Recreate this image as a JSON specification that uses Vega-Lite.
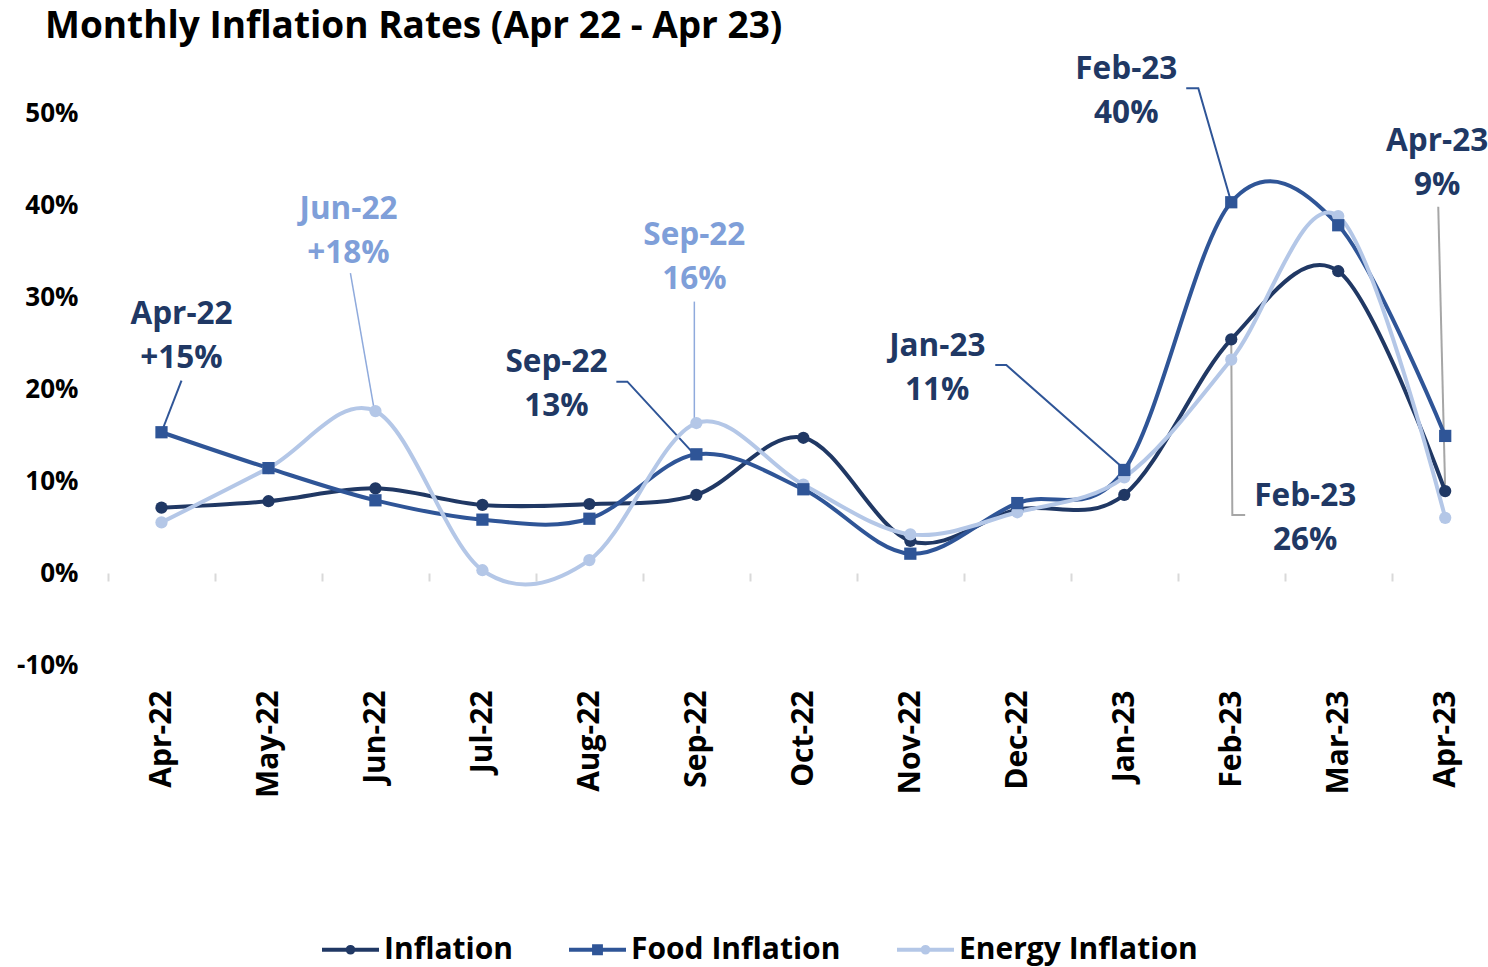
{
  "$schema": "https://vega.github.io/schema/vega-lite/v6.json",
  "autosize": "none",
  "width": 1380,
  "height": 552,
  "padding": {"left": 108, "top": 113, "right": 0, "bottom": 302},
  "background": "white",
  "title": {
    "text": "Monthly Inflation Rates (Apr 22 - Apr 23)",
    "anchor": "start",
    "frame": "group",
    "dx": -63,
    "dy": 33,
    "offset": 12,
    "baseline": "alphabetic",
    "font": "Open Sans",
    "fontSize": 37,
    "fontWeight": "bold",
    "color": "#000000"
  },
  "config": {
    "view": {"stroke": null},
    "font": "Open Sans"
  },
  "datasets": {
    "series": [
      {"i": 0, "series": "Inflation", "v": 7.1},
      {"i": 1, "series": "Inflation", "v": 7.8},
      {"i": 2, "series": "Inflation", "v": 9.2},
      {"i": 3, "series": "Inflation", "v": 7.4},
      {"i": 4, "series": "Inflation", "v": 7.5},
      {"i": 5, "series": "Inflation", "v": 8.5},
      {"i": 6, "series": "Inflation", "v": 14.7},
      {"i": 7, "series": "Inflation", "v": 3.5},
      {"i": 8, "series": "Inflation", "v": 6.9},
      {"i": 9, "series": "Inflation", "v": 8.5},
      {"i": 10, "series": "Inflation", "v": 25.4},
      {"i": 11, "series": "Inflation", "v": 32.8},
      {"i": 12, "series": "Inflation", "v": 8.9},
      {"i": 0, "series": "Food Inflation", "v": 15.3},
      {"i": 1, "series": "Food Inflation", "v": 11.4},
      {"i": 2, "series": "Food Inflation", "v": 7.9},
      {"i": 3, "series": "Food Inflation", "v": 5.8},
      {"i": 4, "series": "Food Inflation", "v": 5.9},
      {"i": 5, "series": "Food Inflation", "v": 12.9},
      {"i": 6, "series": "Food Inflation", "v": 9.1},
      {"i": 7, "series": "Food Inflation", "v": 2.1},
      {"i": 8, "series": "Food Inflation", "v": 7.6},
      {"i": 9, "series": "Food Inflation", "v": 11.2},
      {"i": 10, "series": "Food Inflation", "v": 40.3},
      {"i": 11, "series": "Food Inflation", "v": 37.8},
      {"i": 12, "series": "Food Inflation", "v": 14.9},
      {"i": 0, "series": "Energy Inflation", "v": 5.5},
      {"i": 1, "series": "Energy Inflation", "v": 11.4},
      {"i": 2, "series": "Energy Inflation", "v": 17.6},
      {"i": 3, "series": "Energy Inflation", "v": 0.3},
      {"i": 4, "series": "Energy Inflation", "v": 1.4},
      {"i": 5, "series": "Energy Inflation", "v": 16.3},
      {"i": 6, "series": "Energy Inflation", "v": 9.6},
      {"i": 7, "series": "Energy Inflation", "v": 4.2},
      {"i": 8, "series": "Energy Inflation", "v": 6.6},
      {"i": 9, "series": "Energy Inflation", "v": 10.4},
      {"i": 10, "series": "Energy Inflation", "v": 23.2},
      {"i": 11, "series": "Energy Inflation", "v": 38.8},
      {"i": 12, "series": "Energy Inflation", "v": 6.0}
    ],
    "leaders": [
      {"id": 1, "k": 0, "kind": "food", "x": 0.187, "y": 20.9},
      {"id": 1, "k": 1, "kind": "food", "x": 0.0, "y": 15.3},
      {"id": 2, "k": 0, "kind": "energy", "x": 1.766, "y": 32.6},
      {"id": 2, "k": 1, "kind": "energy", "x": 1.991, "y": 17.6},
      {"id": 3, "k": 0, "kind": "food", "x": 4.252, "y": 20.8},
      {"id": 3, "k": 1, "kind": "food", "x": 4.355, "y": 20.8},
      {"id": 3, "k": 2, "kind": "food", "x": 4.981, "y": 12.9},
      {"id": 4, "k": 0, "kind": "energy", "x": 4.981, "y": 29.5},
      {"id": 4, "k": 1, "kind": "energy", "x": 4.981, "y": 16.3},
      {"id": 5, "k": 0, "kind": "food", "x": 7.794, "y": 22.6},
      {"id": 5, "k": 1, "kind": "food", "x": 7.897, "y": 22.6},
      {"id": 5, "k": 2, "kind": "food", "x": 8.981, "y": 11.5},
      {"id": 6, "k": 0, "kind": "food", "x": 9.579, "y": 52.7},
      {"id": 6, "k": 1, "kind": "food", "x": 9.692, "y": 52.7},
      {"id": 6, "k": 2, "kind": "food", "x": 10.0, "y": 40.3},
      {"id": 7, "k": 0, "kind": "callout", "x": 11.935, "y": 39.8},
      {"id": 7, "k": 1, "kind": "callout", "x": 12.0, "y": 8.9},
      {"id": 8, "k": 0, "kind": "callout", "x": 10.0, "y": 25.4},
      {"id": 8, "k": 1, "kind": "callout", "x": 10.01, "y": 6.3},
      {"id": 8, "k": 2, "kind": "callout", "x": 10.13, "y": 6.3}
    ],
    "notes": [
      {"kind": "dark", "x": 0.187, "y": 28.04, "label": "Apr-22\n+15%"},
      {"kind": "light", "x": 1.748, "y": 39.46, "label": "Jun-22\n+18%"},
      {"kind": "dark", "x": 3.692, "y": 22.83, "label": "Sep-22\n13%"},
      {"kind": "light", "x": 4.981, "y": 36.63, "label": "Sep-22\n16%"},
      {"kind": "dark", "x": 7.252, "y": 24.57, "label": "Jan-23\n11%"},
      {"kind": "dark", "x": 9.019, "y": 54.67, "label": "Feb-23\n40%"},
      {"kind": "dark", "x": 11.925, "y": 46.85, "label": "Apr-23\n9%"},
      {"kind": "dark", "x": 10.692, "y": 8.26, "label": "Feb-23\n26%"}
    ]
  },
  "layer": [
    {
      "mark": {"type": "rule", "color": "#d9d9d9", "strokeWidth": 2},
      "encoding": {
        "y": {"datum": 0, "type": "quantitative", "scale": {"domain": [-10, 50], "nice": false, "zero": false}}
      }
    },
    {
      "data": {"name": "leaders"},
      "transform": [{"filter": "datum.kind === 'food'"}],
      "mark": {"type": "line", "color": "#2f5597", "strokeWidth": 2},
      "encoding": {
        "x": {"field": "x", "type": "quantitative", "axis": null, "scale": {"domain": [-0.5, 12.4], "nice": false, "zero": false}},
        "y": {"field": "y", "type": "quantitative", "scale": {"domain": [-10, 50], "nice": false, "zero": false}},
        "detail": {"field": "id", "type": "nominal"},
        "order": {"field": "k", "type": "quantitative"}
      }
    },
    {
      "data": {"name": "leaders"},
      "transform": [{"filter": "datum.kind === 'energy'"}],
      "mark": {"type": "line", "color": "#8faadc", "strokeWidth": 1.5},
      "encoding": {
        "x": {"field": "x", "type": "quantitative", "axis": null, "scale": {"domain": [-0.5, 12.4], "nice": false, "zero": false}},
        "y": {"field": "y", "type": "quantitative", "scale": {"domain": [-10, 50], "nice": false, "zero": false}},
        "detail": {"field": "id", "type": "nominal"},
        "order": {"field": "k", "type": "quantitative"}
      }
    },
    {
      "data": {"name": "leaders"},
      "transform": [{"filter": "datum.kind === 'callout'"}],
      "mark": {"type": "line", "color": "#a6a6a6", "strokeWidth": 2},
      "encoding": {
        "x": {"field": "x", "type": "quantitative", "axis": null, "scale": {"domain": [-0.5, 12.4], "nice": false, "zero": false}},
        "y": {"field": "y", "type": "quantitative", "scale": {"domain": [-10, 50], "nice": false, "zero": false}},
        "detail": {"field": "id", "type": "nominal"},
        "order": {"field": "k", "type": "quantitative"}
      }
    },
    {
      "data": {"name": "series"},
      "mark": {"type": "line", "interpolate": "cardinal", "strokeWidth": 4},
      "encoding": {
        "x": {
          "field": "i", "type": "quantitative",
          "scale": {"domain": [-0.5, 12.4], "nice": false, "zero": false},
          "axis": {
            "orient": "bottom", "offset": -92,
            "values": [-0.5, 0.5, 1.5, 2.5, 3.5, 4.5, 5.5, 6.5, 7.5, 8.5, 9.5, 10.5, 11.5],
            "labels": false, "grid": false, "title": null,
            "domain": false,
            "ticks": true, "tickColor": "#d9d9d9", "tickWidth": 2, "tickSize": 8
          }
        },
        "y": {
          "field": "v", "type": "quantitative",
          "scale": {"domain": [-10, 50], "nice": false, "zero": false},
          "axis": {
            "values": [-10, 0, 10, 20, 30, 40, 50],
            "labelExpr": "datum.value + '%'",
            "grid": false, "domain": false, "ticks": false, "title": null,
            "labelPadding": 30, "labelFont": "Open Sans", "labelFontSize": 26,
            "labelFontWeight": "bold", "labelColor": "#000000"
          }
        },
        "color": {
          "field": "series", "type": "nominal",
          "scale": {"domain": ["Inflation", "Food Inflation", "Energy Inflation"], "range": ["#203864", "#2f5597", "#b4c7e7"]},
          "legend": {
            "orient": "none", "legendX": 212, "legendY": 806, "direction": "horizontal",
            "title": null,
            "labelFont": "Open Sans",
            "labelFontSize": 30, "labelFontWeight": "bold", "labelColor": "#000000",
            "labelOffset": 3, "columnPadding": 48, "labelLimit": 500,
            "symbolSize": 3249, "symbolStrokeWidth": 4,
            "encode": {
              "symbols": {
                "update": {
                  "shape": {"signal": "datum.value === 'Food Inflation' ? 'M-1,0H1M-0.12,-0.12H0.12V0.12H-0.12Z' : 'M-1,0H1M0.1,0A0.1,0.1,0,1,1,-0.1,0A0.1,0.1,0,1,1,0.1,0Z'"},
                  "fill": {"signal": "datum.value === 'Inflation' ? '#203864' : datum.value === 'Food Inflation' ? '#2f5597' : '#b4c7e7'"},
                  "stroke": {"signal": "datum.value === 'Inflation' ? '#203864' : datum.value === 'Food Inflation' ? '#2f5597' : '#b4c7e7'"},
                  "strokeWidth": {"value": 4},
                  "size": {"value": 3249},
                  "opacity": {"value": 1}
                }
              }
            }
          }
        }
      }
    },
    {
      "data": {"name": "series"},
      "transform": [{"filter": "datum.series !== 'Food Inflation'"}],
      "mark": {"type": "point", "shape": "circle", "filled": true, "size": 150, "opacity": 1},
      "encoding": {
        "x": {
          "field": "i", "type": "quantitative",
          "scale": {"domain": [-0.5, 12.4], "nice": false, "zero": false},
          "axis": {
            "orient": "bottom",
            "values": [0, 1, 2, 3, 4, 5, 6, 7, 8, 9, 10, 11, 12],
            "labelExpr": "['Apr-22','May-22','Jun-22','Jul-22','Aug-22','Sep-22','Oct-22','Nov-22','Dec-22','Jan-23','Feb-23','Mar-23','Apr-23'][datum.value]",
            "labelAngle": 270, "labelAlign": "right", "labelBaseline": "middle",
            "labelPadding": 25, "labelFont": "Open Sans", "labelFontSize": 30,
            "labelFontWeight": "bold", "labelColor": "#000000",
            "labelOverlap": false, "labelFlush": false,
            "domain": false, "ticks": false, "grid": false, "title": null
          }
        },
        "y": {"field": "v", "type": "quantitative", "scale": {"domain": [-10, 50], "nice": false, "zero": false}},
        "color": {
          "field": "series", "type": "nominal",
          "scale": {"domain": ["Inflation", "Food Inflation", "Energy Inflation"], "range": ["#203864", "#2f5597", "#b4c7e7"]}
        }
      }
    },
    {
      "data": {"name": "series"},
      "transform": [{"filter": "datum.series === 'Food Inflation'"}],
      "mark": {"type": "point", "shape": "square", "filled": true, "size": 150, "opacity": 1},
      "encoding": {
        "x": {"field": "i", "type": "quantitative", "axis": null, "scale": {"domain": [-0.5, 12.4], "nice": false, "zero": false}},
        "y": {"field": "v", "type": "quantitative", "scale": {"domain": [-10, 50], "nice": false, "zero": false}},
        "color": {
          "field": "series", "type": "nominal",
          "scale": {"domain": ["Inflation", "Food Inflation", "Energy Inflation"], "range": ["#203864", "#2f5597", "#b4c7e7"]}
        }
      }
    },
    {
      "data": {"name": "notes"},
      "transform": [{"filter": "datum.kind === 'dark'"}],
      "mark": {"type": "text", "lineBreak": "\n", "lineHeight": 44, "align": "center", "baseline": "middle", "font": "Open Sans", "fontSize": 31.5, "fontWeight": "bold", "color": "#203864"},
      "encoding": {
        "x": {"field": "x", "type": "quantitative", "axis": null, "scale": {"domain": [-0.5, 12.4], "nice": false, "zero": false}},
        "y": {"field": "y", "type": "quantitative", "scale": {"domain": [-10, 50], "nice": false, "zero": false}},
        "text": {"field": "label", "type": "nominal"}
      }
    },
    {
      "data": {"name": "notes"},
      "transform": [{"filter": "datum.kind === 'light'"}],
      "mark": {"type": "text", "lineBreak": "\n", "lineHeight": 44, "align": "center", "baseline": "middle", "font": "Open Sans", "fontSize": 31.5, "fontWeight": "bold", "color": "#7f9fd9"},
      "encoding": {
        "x": {"field": "x", "type": "quantitative", "axis": null, "scale": {"domain": [-0.5, 12.4], "nice": false, "zero": false}},
        "y": {"field": "y", "type": "quantitative", "scale": {"domain": [-10, 50], "nice": false, "zero": false}},
        "text": {"field": "label", "type": "nominal"}
      }
    }
  ],
  "resolve": {"axis": {"x": "independent"}}
}
